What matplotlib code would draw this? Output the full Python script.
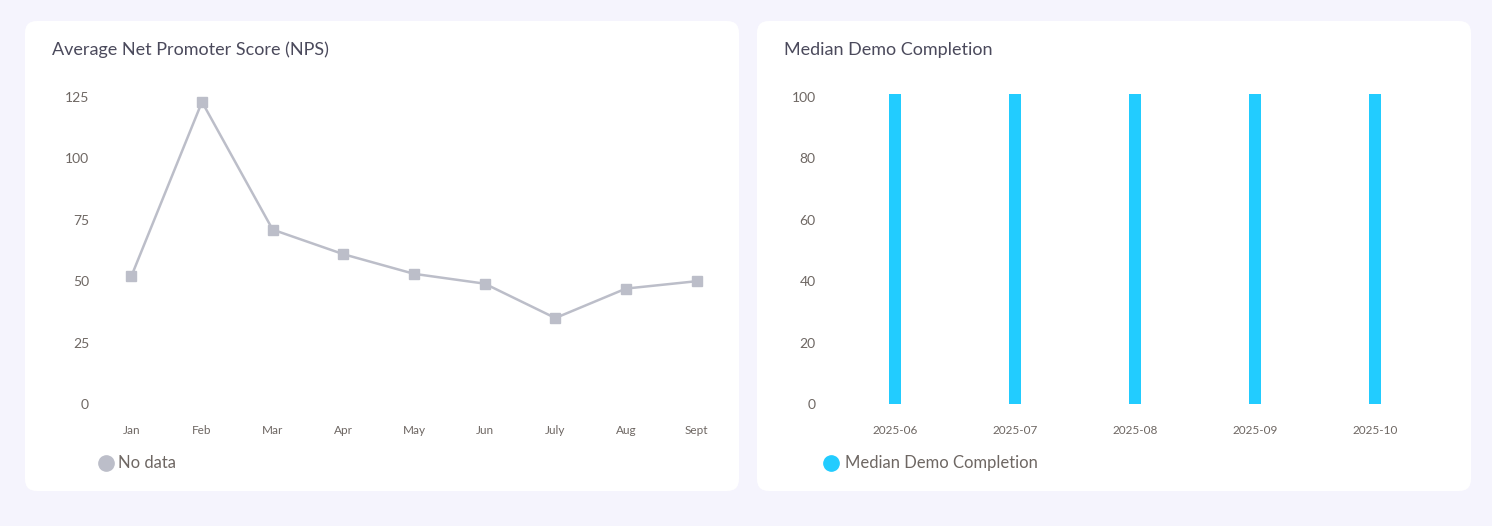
import matplotlib
matplotlib.use("Agg")
import matplotlib.pyplot as plt
from matplotlib.patches import FancyBboxPatch
from matplotlib.lines import Line2D

# data
months = ['Jan', 'Feb', 'Mar', 'Apr', 'May', 'Jun', 'July', 'Aug', 'Sept']
nps = [52, 123, 71, 61, 53, 49, 35, 47, 50]
nps_ticks = [0, 25, 50, 75, 100, 125]

periods = ['2025-06', '2025-07', '2025-08', '2025-09', '2025-10']
demo_completion = [101, 101, 101, 101, 101]
demo_ticks = [0, 20, 40, 60, 80, 100]

plt.rcParams['font.family'] = ['Lato', 'DejaVu Sans']

W, H = 1492, 526
fig = plt.figure(figsize=(W / 100, H / 100), dpi=100)
fig.patch.set_facecolor('#f5f4fd')

def card(x0, y0, x1, y1):
    # pixel box -> figure fraction
    fig.patches.append(FancyBboxPatch(
        (x0 / W, 1 - y1 / H), (x1 - x0) / W, (y1 - y0) / H,
        boxstyle='round,pad=0,rounding_size=0.008',
        transform=fig.transFigure, facecolor='white', edgecolor='none',
        zorder=-5, mutation_aspect=W / H))

card(25, 21, 739, 491)
card(757, 21, 1471, 491)

title_col = '#4b4a5c'
tick_col = '#6e6763'
line_col = '#bcbec9'
bar_col = '#22ccff'

def ax_box(x0, x1, y0=97, y1=404):
    return [x0 / W, 1 - y1 / H, (x1 - x0) / W, (y1 - y0) / H]

def style(ax, ypad):
    for s in ax.spines.values():
        s.set_visible(False)
    ax.tick_params(axis='both', length=0, colors=tick_col)
    ax.tick_params(axis='y', labelsize=10, pad=ypad)
    ax.tick_params(axis='x', labelsize=8.5, pad=15)
    ax.set_facecolor('none')
    ax.set_zorder(2)

# left: NPS line
ax1 = fig.add_axes(ax_box(96, 732))
ax1.plot(range(len(months)), nps, color=line_col, lw=1.8, marker='s',
         markersize=7.5, markerfacecolor=line_col, markeredgecolor=line_col,
         clip_on=False)
ax1.set_xlim(-0.5, len(months) - 0.5)
ax1.set_ylim(0, 125)
ax1.set_yticks(nps_ticks)
ax1.set_xticks(range(len(months)))
ax1.set_xticklabels(months)
style(ax1, 5)

fig.text(52 / W, 1 - 50 / H, 'Average Net Promoter Score (NPS)', fontsize=13,
         color=title_col, va='center', ha='left')
fig.lines.append(Line2D([106 / W], [1 - 463 / H], marker='o', markersize=11,
                        color=line_col, transform=fig.transFigure))
fig.text(118 / W, 1 - 463 / H, 'No data', fontsize=12, color=tick_col,
         va='center', ha='left')

# right: demo completion bars
ax2 = fig.add_axes(ax_box(835, 1435, 97, 404))
ax2.bar(range(len(periods)), demo_completion, width=0.095, color=bar_col,
        clip_on=False)
ax2.set_xlim(-0.5, len(periods) - 0.5)
ax2.set_ylim(0, 100)
ax2.set_yticks(demo_ticks)
ax2.set_xticks(range(len(periods)))
ax2.set_xticklabels(periods)
style(ax2, 14)

fig.text(784 / W, 1 - 50 / H, 'Median Demo Completion', fontsize=13,
         color=title_col, va='center', ha='left')
fig.lines.append(Line2D([831 / W], [1 - 463 / H], marker='o', markersize=11,
                        color=bar_col, transform=fig.transFigure))
fig.text(845 / W, 1 - 463 / H, 'Median Demo Completion', fontsize=12,
         color=tick_col, va='center', ha='left')

fig.savefig('out.png', dpi=100, facecolor=fig.get_facecolor())
